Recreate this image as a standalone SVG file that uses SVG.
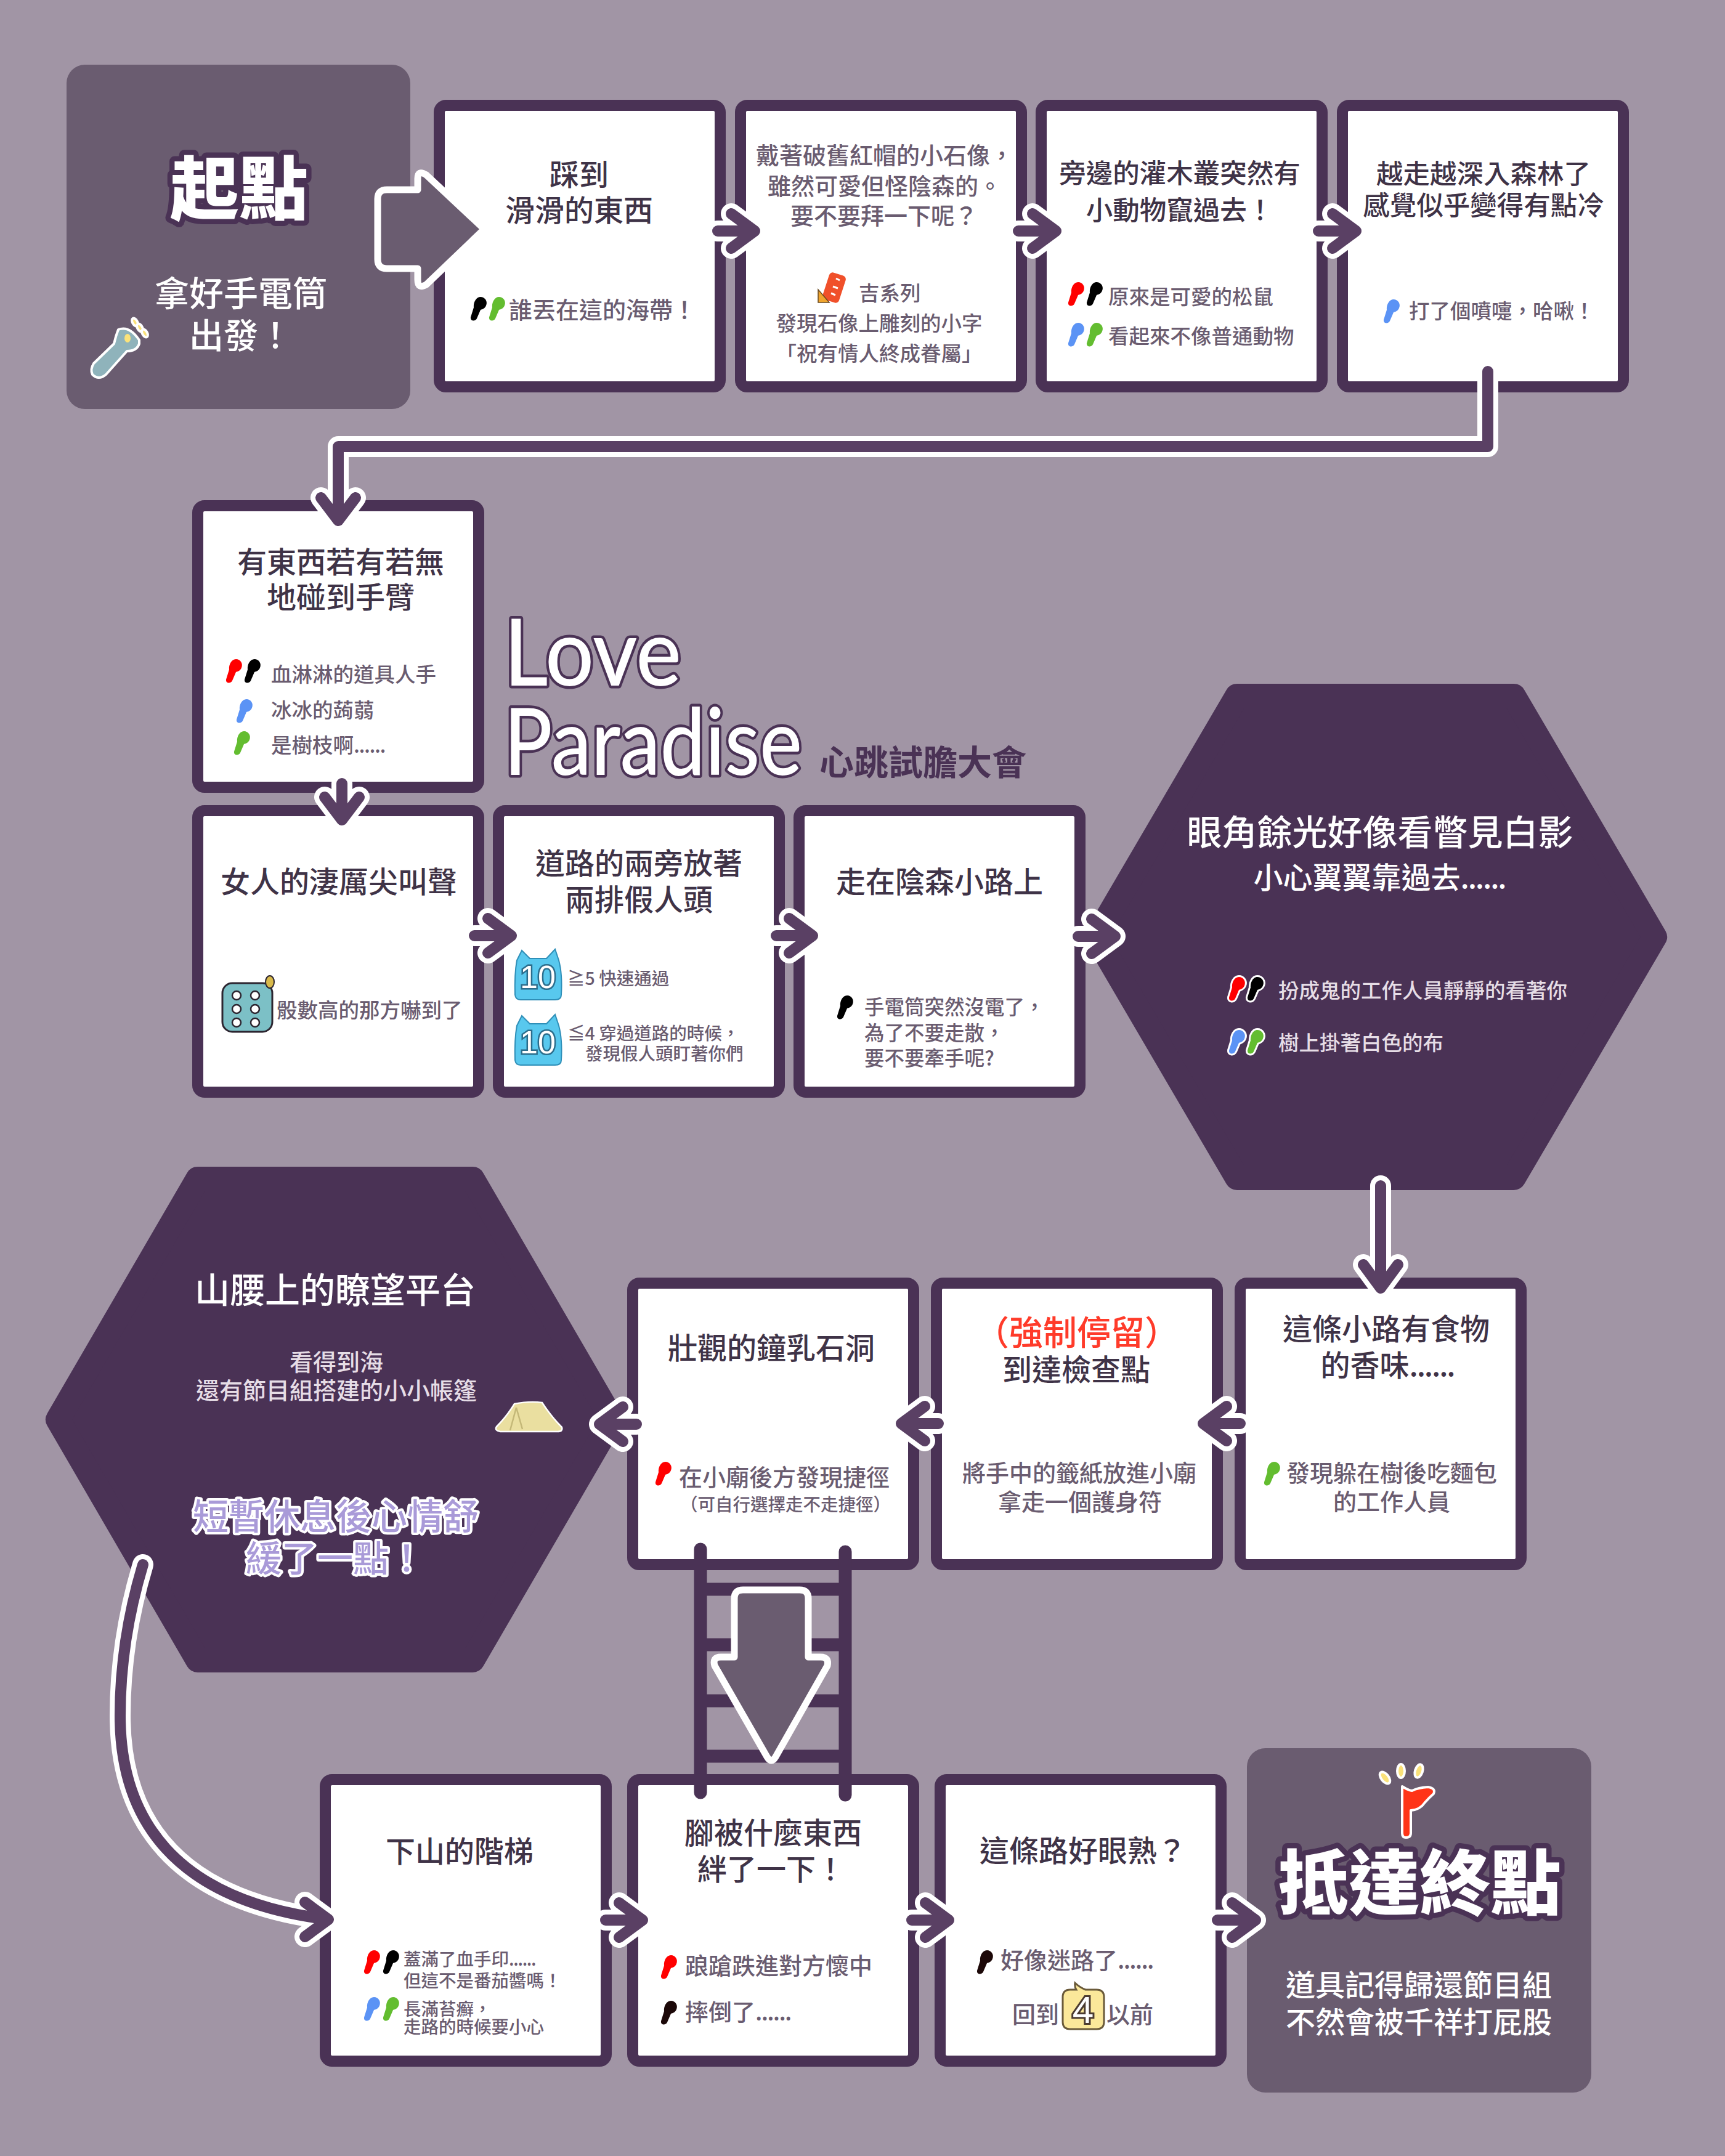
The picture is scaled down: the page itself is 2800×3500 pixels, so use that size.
<svg xmlns="http://www.w3.org/2000/svg" width="2800" height="3500" viewBox="0 0 2800 3500">
<style>
text{font-family:"Noto Sans CJK TC","Noto Sans",sans-serif;font-weight:500}
.box{fill:#fff;stroke:#4a3255;stroke-width:18}
.hex{fill:#4a3255;stroke:#4a3255;stroke-width:40;stroke-linejoin:round}
.term{fill:#6a5c70}
.t{font-size:48px;fill:#3f3347;text-anchor:middle}
.s{font-size:38px;fill:#6a5c70}
.s2{font-size:33.5px;fill:#6a5c70}
.s3{font-size:28.5px;fill:#6a5c70}
.m{text-anchor:middle}
.w{fill:#fff;text-anchor:middle}
.hs{fill:#e6dde6}
.d{letter-spacing:-.045em}
.big{fill:#fff;stroke:#4a3255;stroke-width:17;stroke-linejoin:round;paint-order:stroke;font-weight:900;text-anchor:middle}
.pur{font-size:58px;fill:#a99ad8;stroke:#fff;stroke-width:8;stroke-linejoin:round;paint-order:stroke;text-anchor:middle}
.logo{font-family:Lato,"Liberation Sans",sans-serif;font-weight:500;font-size:150px;fill:#fff;stroke:#4a3255;stroke-width:9;stroke-linejoin:round;paint-order:stroke}
.ten{font-family:"Liberation Sans",sans-serif;font-size:52px;fill:#fff;stroke:#2c6d8c;stroke-width:5;paint-order:stroke;text-anchor:middle}
.halo{fill:none;stroke:#fff;stroke-width:34;stroke-linecap:round;stroke-linejoin:round}
.core{fill:none;stroke:#5a4064;stroke-width:18;stroke-linecap:round;stroke-linejoin:round}
.rail{fill:none;stroke:#4a3255;stroke-width:21;stroke-linecap:round}
.block{fill:#6a5c70;stroke:#fff;stroke-width:11;stroke-linejoin:round}
.r{fill:#f00}.k{fill:#000}.b{fill:#5b93f5}.g{fill:#63bd30}
.ol{stroke:#fff;stroke-width:6;stroke-linejoin:round;paint-order:stroke}
.ray{fill:#fbe27a;stroke:#fff;stroke-width:4}
</style>
<defs>
<path id="torch" d="M17 0C24 0 29 7 26 14C24 19 20 20 17 21L11 35C9 40 0 40 1 33L6 17C5 9 10 0 17 0Z"/>
<path id="cat" d="M4 18L12 2L25 15H52L66 0L72 18Q78 40 76 74Q76 82 66 82H10Q2 82 1 74Q0 40 4 18Z" fill="#58c8ee" stroke="#2f8fb8" stroke-width="2"/>
</defs>
<rect width="2800" height="3500" fill="#a195a5"/>

<g id="start">
<rect class="term" x="108" y="105" width="558" height="559" rx="30"/>
<text class="big" x="388" y="348" font-size="112">起點</text>
<text class="w" x="391" y="497" font-size="56">拿好手電筒</text>
<text class="w" x="391" y="565" font-size="56">出發！</text>
<g id="flashlight">
<path d="M192 535Q210 528 226 552L226 558Q222 570 206 570L172 608Q160 618 150 608Q146 600 152 590L185 558Q188 545 192 535Z" fill="#8fb3bb" stroke="#fff" stroke-width="4" stroke-linejoin="round"/>
<ellipse cx="207" cy="549" rx="5" ry="7" fill="#fbe27a"/>
<ellipse class="ray" cx="219" cy="523" rx="4" ry="7" transform="rotate(-30 219 523)"/>
<ellipse class="ray" cx="227" cy="532" rx="4" ry="7" transform="rotate(-30 227 532)"/>
<ellipse class="ray" cx="235" cy="541" rx="4" ry="7" transform="rotate(-30 235 541)"/>
</g>
</g>

<g id="n1">
<rect class="box" x="713" y="171" width="456" height="457" rx="11"/>
<text class="t" x="940" y="301">踩到</text>
<text class="t" x="940" y="359">滑滑的東西</text>
<use href="#torch" class="k" x="763" y="482"/><use href="#torch" class="g" x="793" y="482"/>
<text class="s" x="826" y="517">誰丟在這的海帶！</text>
</g>

<g id="n2">
<rect class="box" x="1202" y="171" width="456" height="457" rx="11"/>
<text class="s" x="1227" y="266">戴著破舊紅帽的小石像，</text>
<text class="s" x="1246" y="316">雖然可愛但怪陰森的。</text>
<text class="s" x="1283" y="364">要不要拜一下呢？</text>
<g id="ticket">
<rect x="1340" y="444" width="28" height="46" rx="6" fill="#f0502a" transform="rotate(18 1354 467)"/>
<path d="M1328 470L1346 491H1328Z" fill="#f0a52e" stroke="#6a4a20" stroke-width="1.5"/>
<path d="M1357 452l6 3M1352 465l8 3M1349 476l7 3" stroke="#fff" stroke-width="3" fill="none"/>
</g>
<text class="s2" x="1394" y="488">吉系列</text>
<text class="s2 m" x="1427" y="537">發現石像上雕刻的小字</text>
<text class="s2 m" x="1427" y="586">「祝有情人終成眷屬」</text>
</g>

<g id="n3">
<rect class="box" x="1690" y="171" width="456" height="457" rx="11"/>
<text class="t" style="font-size:43.5px" x="1915" y="297">旁邊的灌木叢突然有</text>
<text class="t" style="font-size:43.5px" x="1915" y="357">小動物竄過去！</text>
<use href="#torch" class="r" x="1733" y="458"/><use href="#torch" class="k" x="1763" y="458"/>
<text class="s2" x="1799" y="494">原來是可愛的松鼠</text>
<use href="#torch" class="b" x="1733" y="524"/><use href="#torch" class="g" x="1763" y="524"/>
<text class="s2" x="1799" y="558">看起來不像普通動物</text>
</g>

<g id="n4">
<rect class="box" x="2179" y="171" width="456" height="457" rx="11"/>
<text class="t" style="font-size:43.5px" x="2408" y="298">越走越深入森林了</text>
<text class="t" style="font-size:43.5px" x="2408" y="349">感覺似乎變得有點冷</text>
<use href="#torch" class="b" x="2245" y="486"/>
<text class="s2" x="2287" y="517">打了個噴嚏，哈啾！</text>
</g>

<g id="title">
<text class="logo" x="818" y="1113" textLength="288" lengthAdjust="spacingAndGlyphs">Love</text>
<text class="logo" x="818" y="1258" textLength="484" lengthAdjust="spacingAndGlyphs">Paradise</text>
<text x="1330" y="1258" font-size="56" fill="#4a3255" style="font-weight:700">心跳試膽大會</text>
</g>

<g id="n5">
<rect class="box" x="321" y="821" width="456" height="457" rx="11"/>
<text class="t" x="553" y="930">有東西若有若無</text>
<text class="t" x="553" y="987">地碰到手臂</text>
<use href="#torch" class="r" x="366" y="1070"/><use href="#torch" class="k" x="396" y="1070"/>
<text class="s2" x="440" y="1107">血淋淋的道具人手</text>
<use href="#torch" class="b" x="383" y="1135"/>
<text class="s2" x="440" y="1165">冰冰的蒟蒻</text>
<use href="#torch" class="g" x="379" y="1187"/>
<text class="s2" x="440" y="1222">是樹枝啊<tspan class="d">......</tspan></text>
</g>

<g id="n6">
<rect class="box" x="321" y="1316" width="456" height="457" rx="11"/>
<text class="t" x="550" y="1449">女人的淒厲尖叫聲</text>
<g id="dice">
<rect x="361" y="1596" width="81" height="79" rx="16" fill="#7cc0c6" stroke="#2c2530" stroke-width="3"/>
<g fill="#fff" stroke="#2c2530" stroke-width="2.5"><circle cx="384" cy="1616" r="7"/><circle cx="414" cy="1616" r="7"/><circle cx="384" cy="1638" r="7"/><circle cx="414" cy="1638" r="7"/><circle cx="384" cy="1660" r="7"/><circle cx="414" cy="1660" r="7"/></g>
<ellipse cx="438" cy="1594" rx="7" ry="10" fill="#d8b94a" stroke="#2c2530" stroke-width="2"/>
</g>
<text class="s2" x="449" y="1652">骰數高的那方嚇到了</text>
</g>

<g id="n7">
<rect class="box" x="809" y="1316" width="456" height="457" rx="11"/>
<text class="t" x="1037" y="1419">道路的兩旁放著</text>
<text class="t" x="1037" y="1478">兩排假人頭</text>
<use href="#cat" x="835" y="1541"/>
<text class="ten" x="873" y="1604">10</text>
<text class="s3" x="921" y="1599">≧5 快速通過</text>
<use href="#cat" x="835" y="1647"/>
<text class="ten" x="873" y="1710">10</text>
<text class="s3" x="921" y="1688">≦4 穿過道路的時候，</text>
<text class="s3" x="950" y="1721">發現假人頭盯著你們</text>
</g>

<g id="hex1">
<path class="hex" d="M2008 1130H2457L2686 1521L2457 1912H2008L1779 1521Z"/>
<text class="w" x="2240" y="1372" font-size="57">眼角餘光好像看瞥見白影</text>
<text class="w" x="2239" y="1442" font-size="48">小心翼翼靠過去<tspan class="d">......</tspan></text>
<use href="#torch" class="r ol" x="1994" y="1586"/><use href="#torch" class="k ol" x="2024" y="1586"/>
<text class="s2 hs" x="2075" y="1620">扮成鬼的工作人員靜靜的看著你</text>
<use href="#torch" class="b ol" x="1994" y="1672"/><use href="#torch" class="g ol" x="2024" y="1672"/>
<text class="s2 hs" x="2075" y="1705">樹上掛著白色的布</text>
</g>

<g id="n8">
<rect class="box" x="1297" y="1316" width="456" height="457" rx="11"/>
<text class="t" x="1525" y="1449">走在陰森小路上</text>
<use href="#torch" class="k" x="1358" y="1616"/>
<text class="s2" x="1403" y="1647" style="font-size:32.5px">手電筒突然沒電了，</text>
<text class="s2" x="1403" y="1689" style="font-size:32.5px">為了不要走散，</text>
<text class="s2" x="1403" y="1730" style="font-size:32.5px">要不要牽手呢?</text>
</g>

<g id="hex2">
<path class="hex" d="M321 1914H767L994 2304.500L767 2695H321L94 2304.500Z"/>
<text class="w" x="544" y="2115" font-size="57">山腰上的瞭望平台</text>
<text class="hs m" x="546" y="2225" font-size="38">看得到海</text>
<text class="hs m" x="546" y="2271" font-size="38">還有節目組搭建的小小帳篷</text>
<g id="tent">
<path d="M835 2279Q860 2274 880 2277Q895 2300 912 2317Q914 2324 905 2324H812Q802 2322 806 2316Q822 2300 835 2279Z" fill="#eadfa0" stroke="#fff" stroke-width="2.500"/>
<path d="M838 2285L828 2322M838 2285L848 2320" stroke="#c4b878" stroke-width="2.500" fill="none"/>
</g>
<text class="pur" x="545" y="2483">短暫休息後心情舒</text>
<text class="pur" x="544" y="2551">緩了一點！</text>
</g>

<g id="n9">
<rect class="box" x="1027" y="2083" width="456" height="457" rx="11"/>
<text class="t" x="1252" y="2206">壯觀的鐘乳石洞</text>
<use href="#torch" class="r" x="1063" y="2373"/>
<text class="s" x="1102" y="2412">在小廟後方發現捷徑</text>
<text class="s3 m" x="1275" y="2453">（可自行選擇走不走捷徑）</text>
</g>

<g id="n10">
<rect class="box" x="1520" y="2083" width="456" height="457" rx="11"/>
<text x="1748" y="2183" font-size="55" fill="#ff3b2a" text-anchor="middle">（強制停留）</text>
<text class="t" x="1747" y="2241">到達檢查點</text>
<text class="s m" x="1752" y="2405">將手中的籤紙放進小廟</text>
<text class="s m" x="1753" y="2452">拿走一個護身符</text>
</g>

<g id="n11">
<rect class="box" x="2013" y="2083" width="456" height="457" rx="11"/>
<text class="t" x="2250" y="2175">這條小路有食物</text>
<text class="t" x="2252" y="2234">的香味<tspan class="d">......</tspan></text>
<use href="#torch" class="g" x="2051" y="2373"/>
<text class="s m" x="2259" y="2405">發現躲在樹後吃麵包</text>
<text class="s m" x="2259" y="2452">的工作人員</text>
</g>

<g id="n12">
<rect class="box" x="528" y="2889" width="456" height="457" rx="11"/>
<text class="t" x="746" y="3023">下山的階梯</text>
<use href="#torch" class="r" x="590" y="3166"/><use href="#torch" class="k" x="621" y="3166"/>
<text class="s3" x="655" y="3191">蓋滿了血手印<tspan class="d">......</tspan></text>
<text class="s3" x="655" y="3226">但這不是番茄醬嗎！</text>
<use href="#torch" class="b" x="590" y="3242"/><use href="#torch" class="g" x="621" y="3242"/>
<text class="s3" x="655" y="3272">長滿苔癬，</text>
<text class="s3" x="655" y="3301">走路的時候要小心</text>
</g>

<g id="n13">
<rect class="box" x="1027" y="2889" width="456" height="457" rx="11"/>
<text class="t" x="1255" y="2993">腳被什麼東西</text>
<text class="t" x="1252" y="3052">絆了一下！</text>
<use href="#torch" class="r" x="1072" y="3174"/>
<text class="s" x="1112" y="3205">踉蹌跌進對方懷中</text>
<use href="#torch" fill="#1c0808" x="1072" y="3248"/>
<text class="s" x="1112" y="3280">摔倒了<tspan class="d">......</tspan></text>
</g>

<g id="n14">
<rect class="box" x="1526" y="2889" width="456" height="457" rx="11"/>
<text class="t" x="1758" y="3022">這條路好眼熟？</text>
<use href="#torch" fill="#1c0808" x="1585" y="3166"/>
<text class="s" x="1624" y="3196">好像迷路了<tspan class="d">......</tspan></text>
<text class="s" x="1643" y="3284">回到</text>
<g id="bubble">
<path d="M1737 3230H1747Q1744 3225 1745 3219Q1752 3226 1762 3230H1780Q1792 3230 1792 3242V3282Q1792 3294 1780 3294H1737Q1725 3294 1725 3282V3242Q1725 3230 1737 3230Z" fill="#fbe89a" stroke="#6a5a3a" stroke-width="3"/>
<text x="1758" y="3284" font-size="62" fill="#fff" stroke="#4a3a30" stroke-width="6" paint-order="stroke" text-anchor="middle" style="font-family:'Liberation Sans',sans-serif">4</text>
</g>
<text class="s" x="1796" y="3284">以前</text>
</g>

<g id="end">
<rect class="term" x="2024" y="2838" width="559" height="559" rx="30"/>
<g id="flag">
<ellipse class="ray" cx="2248" cy="2886" rx="6" ry="11" transform="rotate(-38 2248 2886)"/>
<ellipse class="ray" cx="2274" cy="2875" rx="6" ry="11"/>
<ellipse class="ray" cx="2303" cy="2875" rx="6" ry="11" transform="rotate(18 2303 2875)"/>
<path d="M2276 2900Q2285 2906 2292 2907Q2302 2902 2318 2901Q2331 2903 2327 2912Q2320 2918 2313 2926Q2305 2938 2290 2939V2976Q2290 2983 2282 2983Q2276 2983 2276 2976Z" fill="#ff3417" stroke="#fff" stroke-width="4" stroke-linejoin="round"/>
</g>
<text class="big" x="2304" y="3099" font-size="115">抵達終點</text>
<text class="w" x="2303" y="3240" font-size="48">道具記得歸還節目組</text>
<text class="w" x="2303" y="3300" font-size="48">不然會被千祥打屁股</text>
</g>

<g id="connectors">
<path class="block" d="M628 308H678V290Q678 275 692 284L786 372L692 462Q678 470 678 454V436H628Q613 436 613 421V323Q613 308 628 308Z"/>
<path class="halo" d="M1165 375H1225M1187 347L1225 375L1187 403"/><path class="core" d="M1165 375H1225M1187 347L1225 375L1187 403"/>
<path class="halo" d="M1653 375H1714M1676 347L1714 375L1676 403"/><path class="core" d="M1653 375H1714M1676 347L1714 375L1676 403"/>
<path class="halo" d="M2140 375H2201M2163 347L2201 375L2163 403"/><path class="core" d="M2140 375H2201M2163 347L2201 375L2163 403"/>
<path class="halo" d="M2415 603V725H549V845M521 808L549 845L577 808"/><path class="core" d="M2415 603V725H549V845M521 808L549 845L577 808"/>
<path class="halo" d="M555 1272V1331M527 1294L555 1331L583 1294"/><path class="core" d="M555 1272V1331M527 1294L555 1331L583 1294"/>
<path class="halo" d="M770 1519H830M792 1491L830 1519L792 1547"/><path class="core" d="M770 1519H830M792 1491L830 1519L792 1547"/>
<path class="halo" d="M1260 1519H1319M1281 1491L1319 1519L1281 1547"/><path class="core" d="M1260 1519H1319M1281 1491L1319 1519L1281 1547"/>
<path class="halo" d="M1750 1520H1810M1772 1492L1810 1520L1772 1548"/><path class="core" d="M1750 1520H1810M1772 1492L1810 1520L1772 1548"/>
<path class="halo" d="M2241 1925V2091M2213 2053L2241 2091L2269 2053"/><path class="core" d="M2241 1925V2091M2213 2053L2241 2091L2269 2053"/>
<path class="halo" d="M2013 2311H1953M1991 2283L1953 2311L1991 2339"/><path class="core" d="M2013 2311H1953M1991 2283L1953 2311L1991 2339"/>
<path class="halo" d="M1523 2311H1463M1501 2283L1463 2311L1501 2339"/><path class="core" d="M1523 2311H1463M1501 2283L1463 2311L1501 2339"/>
<path class="halo" d="M1033 2312H973M1011 2284L973 2312L1011 2340"/><path class="core" d="M1033 2312H973M1011 2284L973 2312L1011 2340"/>
<path class="halo" d="M232 2540C205 2630 195 2710 195 2785C195 2950 280 3085 533 3116M495 3088L533 3116L495 3144"/><path class="core" d="M232 2540C205 2630 195 2710 195 2785C195 2950 280 3085 533 3116M495 3088L533 3116L495 3144"/>
<path class="halo" d="M983 3117H1043M1005 3089L1043 3117L1005 3145"/><path class="core" d="M983 3117H1043M1005 3089L1043 3117L1005 3145"/>
<path class="halo" d="M1480 3117H1540M1502 3089L1540 3117L1502 3145"/><path class="core" d="M1480 3117H1540M1502 3089L1540 3117L1502 3145"/>
<path class="halo" d="M1976 3117H2038M2000 3089L2038 3117L2000 3145"/><path class="core" d="M1976 3117H2038M2000 3089L2038 3117L2000 3145"/>
<g id="ladder">
<path class="rail" d="M1137 2515V2910M1372 2519V2914M1137 2580H1372M1137 2670H1372M1137 2761H1372M1137 2851H1372"/>
<path class="block" d="M1206 2581H1298Q1312 2581 1312 2595V2690H1332Q1346 2690 1343 2704L1259 2852Q1252 2864 1245 2852L1160 2704Q1156 2690 1170 2690H1192V2595Q1192 2581 1206 2581Z"/>
</g>
</g>
</svg>
